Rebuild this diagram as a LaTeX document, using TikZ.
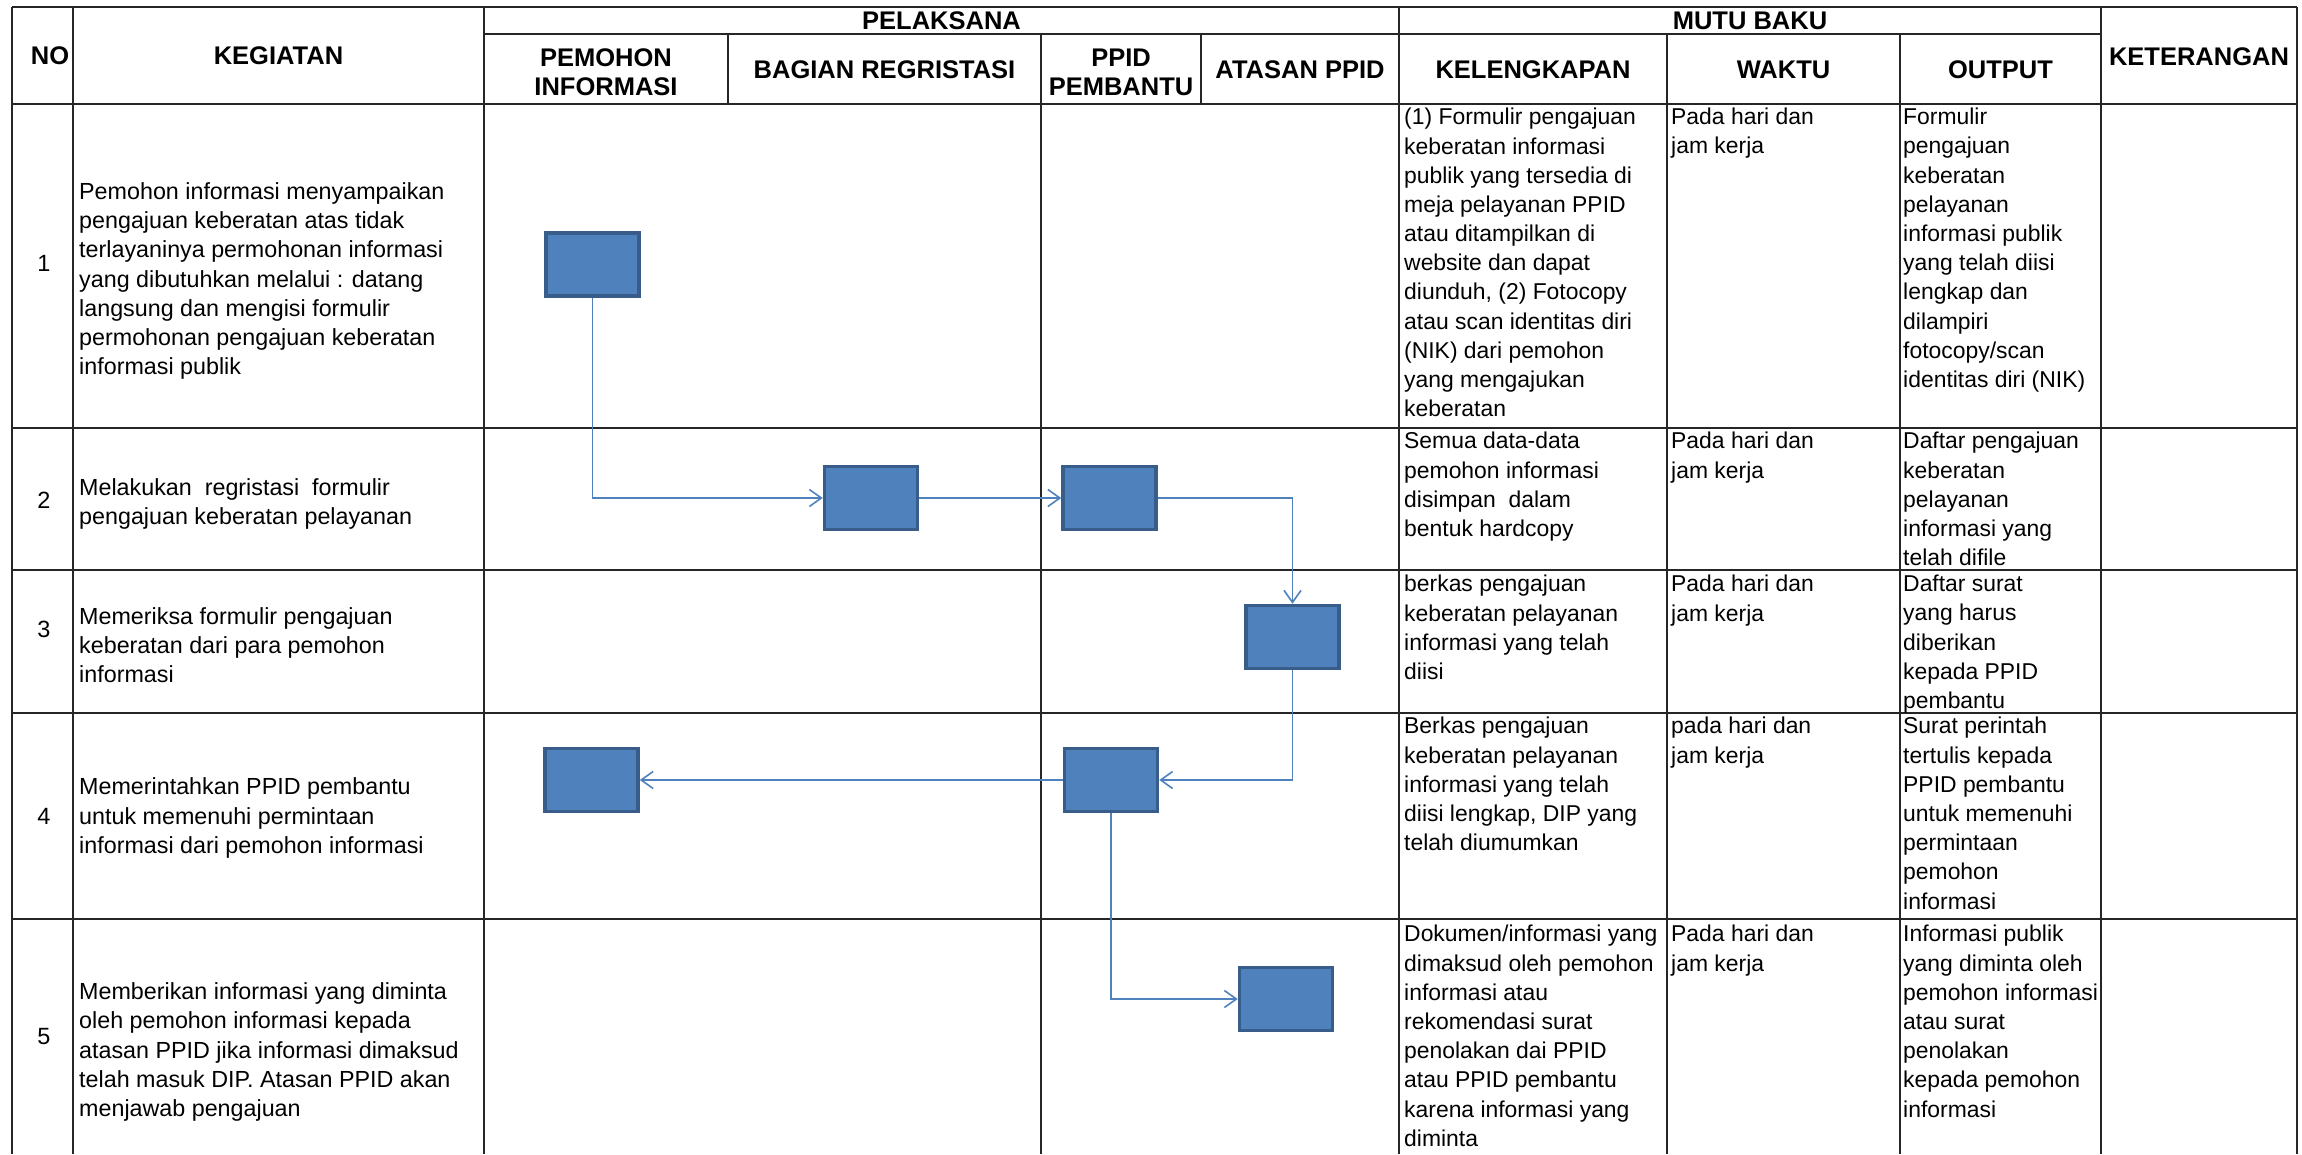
\documentclass[tikz,border=0pt]{standalone}
\usepackage{fontspec}
\setmainfont{Liberation Sans}
\usepackage{tikz}
\usetikzlibrary{arrows.meta}

\definecolor{boxfill}{HTML}{4F81BD}
\definecolor{boxline}{HTML}{385D8A}
\definecolor{tabcolor}{HTML}{262626}

\tikzset{
	tabline/.style={draw=tabcolor, line width=1.8pt},
	head/.style={font=\fontsize{25.5}{29}\selectfont\bfseries, align=center, inner sep=0pt},
	task/.style={font=\fontsize{23.3}{29.2}\selectfont, align=left, inner sep=0pt, anchor=west},
	cell/.style={font=\fontsize{22.9}{29.2}\selectfont, align=left, inner sep=0pt, anchor=north west},
	num/.style={font=\fontsize{23.5}{29.2}\selectfont, inner sep=0pt},
	act/.style={draw=boxline, fill=boxfill, line width=3.5pt, minimum width=93pt, minimum height=63pt, inner sep=0pt},
	flow/.style={draw=boxfill, line width=1.6pt, -{Straight Barb[length=12pt, width=17pt]}}
}

\begin{document}
\begin{tikzpicture}[x=1pt, y=-1pt]

\useasboundingbox (0,0) rectangle (2302,1154);

% table lines
\foreach \y in {7, 104, 428, 570, 713, 919}
	\path [tabline] (12,\y) -- (2297,\y);
\path [tabline] (484,34) -- (2101,34);
\foreach \x in {12, 73, 484, 1399, 2101, 2297}
	\path [tabline] (\x,7) -- (\x,1154);
\foreach \x in {1041, 1667, 1900}
	\path [tabline] (\x,34) -- (\x,1154);
\foreach \x in {728, 1201}
	\path [tabline] (\x,34) -- (\x,104);

% header
\node [head] (hno)         at (50,56)     {NO};
\node [head] (hkegiatan)   at (278.5,56)  {KEGIATAN};
\node [head] (hpelaksana)  at (941.5,21)  {PELAKSANA};
\node [head] (hmutu)       at (1750,21)   {MUTU BAKU};
\node [head] (hpemohon)    at (606,72)    {PEMOHON\\INFORMASI};
\node [head] (hregis)      at (884.5,70)  {BAGIAN REGRISTASI};
\node [head] (hpembantu)   at (1121,72)   {PPID\\PEMBANTU};
\node [head] (hatasan)     at (1300,70)   {ATASAN PPID};
\node [head] (hkelengkap)  at (1533,70)   {KELENGKAPAN};
\node [head] (hwaktu)      at (1783.5,70) {WAKTU};
\node [head] (houtput)     at (2000.5,70) {OUTPUT};
\node [head] (hket)        at (2199,57)   {KETERANGAN};

% row 1
\node [num]  (no1)   at (44,263)  {1};
\node [task] (task1) at (79,281)  {Pemohon informasi menyampaikan\\pengajuan keberatan atas tidak\\terlayaninya permohonan informasi\\yang dibutuhkan melalui : datang\\langsung dan mengisi formulir\\permohonan pengajuan keberatan\\informasi publik};
\node [cell] (kel1)  at (1404,108) {(1) Formulir pengajuan\\keberatan informasi\\publik yang tersedia di\\meja pelayanan PPID\\atau ditampilkan di\\website dan dapat\\diunduh, (2) Fotocopy\\atau scan identitas diri\\(NIK) dari pemohon\\yang mengajukan\\keberatan};
\node [cell] (wkt1)  at (1671,108) {Pada hari dan\\jam kerja};
\node [cell] (out1)  at (1903,108) {Formulir\\pengajuan\\keberatan\\pelayanan\\informasi publik\\yang telah diisi\\lengkap dan\\dilampiri\\fotocopy/scan\\identitas diri (NIK)};

% row 2
\node [num]  (no2)   at (44,500)  {2};
\node [task] (task2) at (79,504)  {Melakukan\ \ regristasi\ \ formulir\\pengajuan keberatan pelayanan};
\node [cell] (kel2)  at (1404,432) {Semua data-data\\pemohon informasi\\disimpan\ \ dalam\\bentuk hardcopy};
\node [cell] (wkt2)  at (1671,432) {Pada hari dan\\jam kerja};
\node [cell] (out2)  at (1903,432) {Daftar pengajuan\\keberatan\\pelayanan\\informasi yang\\telah difile};

% row 3
\node [num]  (no3)   at (44,629)  {3};
\node [task] (task3) at (79,645)  {Memeriksa formulir pengajuan\\keberatan dari para pemohon\\informasi};
\node [cell] (kel3)  at (1404,575) {berkas pengajuan\\keberatan pelayanan\\informasi yang telah\\diisi};
\node [cell] (wkt3)  at (1671,575) {Pada hari dan\\jam kerja};
\node [cell] (out3)  at (1903,575) {Daftar surat\\yang harus\\diberikan\\kepada PPID\\pembantu};

% row 4
\node [num]  (no4)   at (44,816)  {4};
\node [task] (task4) at (79,818)  {Memerintahkan PPID pembantu\\untuk memenuhi permintaan\\informasi dari pemohon informasi};
\node [cell] (kel4)  at (1404,717) {Berkas pengajuan\\keberatan pelayanan\\informasi yang telah\\diisi lengkap, DIP yang\\telah diumumkan};
\node [cell] (wkt4)  at (1671,717) {pada hari dan\\jam kerja};
\node [cell] (out4)  at (1903,717) {Surat perintah\\tertulis kepada\\PPID pembantu\\untuk memenuhi\\permintaan\\pemohon\\informasi};

% row 5
\node [num]  (no5)   at (44,1037) {5};
\node [task] (task5) at (79,1052) {Memberikan informasi yang diminta\\oleh pemohon informasi kepada\\atasan PPID jika informasi dimaksud\\telah masuk DIP. Atasan PPID akan\\menjawab pengajuan};
\node [cell] (kel5)  at (1404,925) {Dokumen/informasi yang\\dimaksud oleh pemohon\\informasi atau\\rekomendasi surat\\penolakan dai PPID\\atau PPID pembantu\\karena informasi yang\\diminta};
\node [cell] (wkt5)  at (1671,925) {Pada hari dan\\jam kerja};
\node [cell] (out5)  at (1903,925) {Informasi publik\\yang diminta oleh\\pemohon informasi\\atau surat\\penolakan\\kepada pemohon\\informasi};

% flow boxes
\node [act] (pemohon1)  at (592.5,264.5) {};
\node [act] (regis2)    at (871,498)     {};
\node [act] (pembantu2) at (1109.5,498)  {};
\node [act] (atasan3)   at (1292.5,637)  {};
\node [act] (pemohon4)  at (591.5,780)   {};
\node [act] (pembantu4) at (1111,780)    {};
\node [act] (atasan5)   at (1286,999)    {};

\path [flow] (pemohon1)  |- (regis2);
\path [flow] (regis2)    -- (pembantu2);
\path [flow] (pembantu2) -| (atasan3);
\path [flow] (atasan3)   |- (pembantu4);
\path [flow] (pembantu4) -- (pemohon4);
\path [flow] (pembantu4) |- (atasan5);

\end{tikzpicture}
\end{document}
